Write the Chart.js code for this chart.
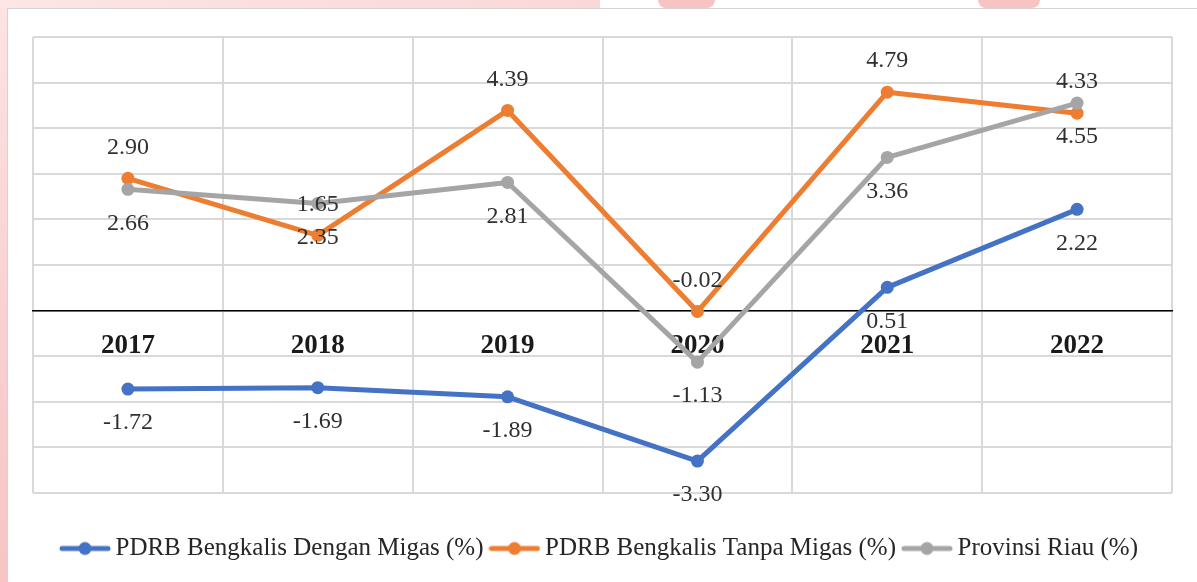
<!DOCTYPE html>
<html>
<head>
<meta charset="utf-8">
<script src="https://cdn.jsdelivr.net/npm/chart.js@4.4.1/dist/chart.umd.min.js"></script>
<style>
  html, body { margin: 0; padding: 0; width: 1197px; height: 582px; overflow: hidden; background: #ffffff; position: relative; }
  .deco { position: absolute; }
  #box { position: absolute; left: 7px; top: 8px; width: 1190px; height: 574px; background: #ffffff;
         border-top: 1px solid #d4d4d4; border-left: 1px solid #d4d4d4; box-sizing: border-box; }
  #c { position: absolute; left: 7px; top: 8px; }
</style>
</head>
<body>
<div class="deco" style="left:0;top:0;width:7px;height:582px;background:linear-gradient(180deg,#fde3e3,#f9cfcf 60%,#f8c4c4);"></div>
<div class="deco" style="left:0;top:0;width:600px;height:8px;background:linear-gradient(90deg,#fde6e6,#fbdede 50%,#fbd8d8);"></div>
<div class="deco" style="left:658px;top:0;width:57px;height:8px;background:#f8c3c3;border-radius:0 0 30px 30px;"></div>
<div class="deco" style="left:978px;top:0;width:62px;height:8px;background:#f8c3c3;border-radius:0 0 30px 30px;"></div>
<div id="box"></div>
<canvas id="c" width="1190" height="574"></canvas>
<script>
// ---- data ----
const categories = ['2017', '2018', '2019', '2020', '2021', '2022'];
const denganMigas = [-1.72, -1.69, -1.89, -3.30, 0.51, 2.22];
const tanpaMigas = [2.90, 1.65, 4.39, -0.02, 4.79, 4.33];
const provinsiRiau = [2.66, 2.35, 2.81, -1.13, 3.36, 4.55];
const seriesNames = ['PDRB Bengkalis Dengan Migas (%)', 'PDRB Bengkalis Tanpa Migas (%)', 'Provinsi Riau (%)'];
const yMin = -4, yMax = 6, yStep = 1;

// ---- styles ----
const colors = ['#4472C4', '#ED7D31', '#A5A5A5'];
const labelFont = "'Liberation Serif', 'Times New Roman', serif";

function legendSymbol(color) {
  const cv = document.createElement('canvas');
  cv.width = 52; cv.height = 16;
  const g = cv.getContext('2d');
  g.strokeStyle = color; g.lineWidth = 5; g.lineCap = 'round';
  g.beginPath(); g.moveTo(3, 8); g.lineTo(49, 8); g.stroke();
  g.fillStyle = color; g.beginPath(); g.arc(26, 8, 6.5, 0, Math.PI * 2); g.fill();
  return cv;
}

const dataLabelPlugin = {
  id: 'dataLabels',
  afterDatasetsDraw(chart) {
    const ctx = chart.ctx;
    ctx.save();
    ctx.font = "24px " + labelFont;
    ctx.fillStyle = '#303030';
    ctx.textAlign = 'center';
    ctx.textBaseline = 'middle';
    chart.data.datasets.forEach((ds, i) => {
      const meta = chart.getDatasetMeta(i);
      meta.data.forEach((el, j) => {
        ctx.fillText(ds.data[j].toFixed(2), el.x, el.y + ds.labelOffset);
      });
    });
    ctx.restore();
  }
};

function makeDataset(label, data, color, order, labelOffset) {
  return {
    label, data, order, labelOffset,
    borderColor: color, backgroundColor: color,
    borderWidth: 5, tension: 0,
    pointRadius: 6.5, pointHoverRadius: 6.5,
    pointBackgroundColor: color, pointBorderColor: color, pointBorderWidth: 0,
    borderCapStyle: 'round', borderJoinStyle: 'round'
  };
}

new Chart(document.getElementById('c'), {
  type: 'line',
  data: {
    labels: categories,
    datasets: [
      makeDataset(seriesNames[0], denganMigas, colors[0], 3, 34),
      makeDataset(seriesNames[1], tanpaMigas, colors[1], 2, -31),
      makeDataset(seriesNames[2], provinsiRiau, colors[2], 1, 34)
    ]
  },
  options: {
    responsive: false,
    animation: false,
    events: [],
    layout: { padding: { left: 26, right: 25, top: 29, bottom: 11 } },
    scales: {
      x: {
        type: 'category',
        position: { y: 0 },
        offset: true,
        grid: { display: true, offset: true, color: '#d9d9d9', lineWidth: 2, drawTicks: false },
        border: { display: true, color: '#000000', width: 1.5 },
        ticks: { padding: 19, color: '#1a1a1a', font: { family: labelFont, size: 27, weight: 'bold' }, maxRotation: 0 }
      },
      x2: {
        type: 'category',
        labels: categories,
        position: 'bottom',
        grid: { display: false },
        border: { display: false },
        ticks: { display: false },
        afterFit(scale) { scale.height = 30; }
      },
      y: {
        min: yMin, max: yMax,
        ticks: { display: false, stepSize: yStep },
        grid: { color: '#d9d9d9', lineWidth: 2, drawTicks: false },
        border: { display: false }
      }
    },
    plugins: {
      tooltip: { enabled: false },
      legend: {
        position: 'bottom',
        align: 'center',
        labels: {
          usePointStyle: true,
          pointStyleWidth: 36,
          padding: 13,
          color: '#262626',
          font: { family: labelFont, size: 25 },
          generateLabels(chart) {
            return chart.data.datasets.map((ds, i) => ({
              text: ds.label,
              pointStyle: legendSymbol(ds.borderColor),
              fillStyle: ds.borderColor,
              strokeStyle: ds.borderColor,
              lineWidth: 0,
              hidden: false,
              datasetIndex: i,
              fontColor: '#262626'
            }));
          }
        }
      }
    }
  },
  plugins: [dataLabelPlugin]
});
</script>
</body>
</html>
